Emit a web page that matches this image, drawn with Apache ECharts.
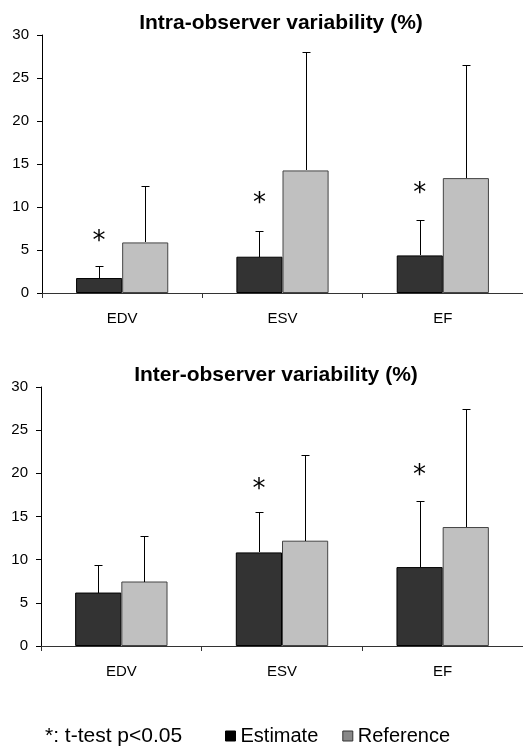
<!DOCTYPE html>
<html lang="en">
<head>
    <meta charset="UTF-8">
    <title>Observer variability</title>
    <script src="https://cdn.jsdelivr.net/npm/echarts@6/dist/echarts.min.js"></script>
    <style>
        html, body { margin: 0; padding: 0; background: #fff; }
        #chart { width: 523px; height: 747px; }
    </style>
</head>
<body>
<div id="chart"></div>
<script>
    // categories and values
    var categories = ['EDV', 'ESV', 'EF'];

    var intraEstimate = [1.74, 4.22, 4.37];
    var intraEstimateSD = [1.36, 3.02, 4.07];
    var intraReference = [5.88, 14.25, 13.36];
    var intraReferenceSD = [6.59, 13.75, 13.12];
    var intraStars = [6.6, 11.0, 12.2];

    var interEstimate = [6.19, 10.84, 9.14];
    var interEstimateSD = [3.22, 4.65, 7.62];
    var interReference = [7.47, 12.2, 13.78];
    var interReferenceSD = [5.23, 9.94, 13.62];
    var interStars = [null, 18.7, 20.3];

    var yTicks = { min: 0, max: 30, interval: 5 };

    var FONT = 'Liberation Sans, Arial, sans-serif';
    var STAR_FONT = '26px DejaVu Sans';
    var CAT_GAP = 0.425;

    // side: -1 = left bar (Estimate), 1 = right bar (Reference)
    function barOffset(api, side) {
        var band = api.size([1, 0])[0];
        var barW = band * (1 - CAT_GAP) / 2;
        return side * barW / 2;
    }

    function errorRender(side) {
        return function (params, api) {
            var i = api.value(0);
            var base = api.coord([i, api.value(1)]);
            var tip = api.coord([i, api.value(1) + api.value(2)]);
            var x = Math.round(base[0] + barOffset(api, side)) + 0.5;
            var y0 = Math.round(base[1]);
            var y1 = Math.round(tip[1]) + 0.5;
            return {
                type: 'group',
                children: [
                    { type: 'line', shape: { x1: x, y1: y0, x2: x, y2: y1 }, style: { stroke: '#000', lineWidth: 1 } },
                    { type: 'line', shape: { x1: x - 4, y1: y1, x2: x + 4, y2: y1 }, style: { stroke: '#000', lineWidth: 1 } }
                ]
            };
        };
    }

    function starRender(params, api) {
        var p = api.coord([api.value(0), api.value(1)]);
        return {
            type: 'text',
            x: p[0] + barOffset(api, -1),
            y: p[1] + 6,
            style: { text: '*', fill: '#000', font: STAR_FONT, align: 'center', verticalAlign: 'middle' }
        };
    }

    function errData(means, sds) {
        return means.map(function (v, i) { return [i, v, sds[i]]; });
    }
    function starData(stars) {
        return stars.map(function (v, i) { return [i, v]; }).filter(function (d) { return d[1] != null; });
    }

    function xAxisFor(gridIndex) {
        return {
            type: 'category',
            gridIndex: gridIndex,
            data: categories,
            axisLine: { lineStyle: { color: '#333', width: 1 } },
            axisTick: { show: true, length: 5, lineStyle: { color: '#333' } },
            axisLabel: { color: '#000', fontSize: 15, fontFamily: FONT, margin: 18 }
        };
    }
    function yAxisFor(gridIndex) {
        return {
            type: 'value',
            gridIndex: gridIndex,
            min: yTicks.min,
            max: yTicks.max,
            interval: yTicks.interval,
            splitLine: { show: false },
            axisLine: { show: true, lineStyle: { color: '#000', width: 1 } },
            axisTick: { show: true, length: 5, lineStyle: { color: '#000' } },
            axisLabel: { color: '#000', fontSize: 15, fontFamily: FONT, margin: 13 }
        };
    }

    var estStyle = { color: '#333333', borderColor: '#000', borderWidth: 1 };
    var refStyle = { color: '#c0c0c0', borderColor: '#444', borderWidth: 1 };

    function barsFor(g, est, ref) {
        return [
            { name: 'Estimate', type: 'bar', xAxisIndex: g, yAxisIndex: g, data: est, barGap: '0%', barCategoryGap: (CAT_GAP * 100) + '%', itemStyle: estStyle },
            { name: 'Reference', type: 'bar', xAxisIndex: g, yAxisIndex: g, data: ref, barGap: '0%', barCategoryGap: (CAT_GAP * 100) + '%', itemStyle: refStyle }
        ];
    }
    function extrasFor(g, est, estSD, ref, refSD, stars) {
        return [
            { type: 'custom', xAxisIndex: g, yAxisIndex: g, z: 5, renderItem: errorRender(-1), data: errData(est, estSD), silent: true },
            { type: 'custom', xAxisIndex: g, yAxisIndex: g, z: 5, renderItem: errorRender(1), data: errData(ref, refSD), silent: true },
            { type: 'custom', xAxisIndex: g, yAxisIndex: g, z: 6, renderItem: starRender, data: starData(stars), silent: true }
        ];
    }

    var chart = echarts.init(document.getElementById('chart'), null, { renderer: 'canvas' });
    chart.setOption({
        backgroundColor: '#fff',
        animation: false,
        title: [
            { text: 'Intra-observer variability (%)', left: 276, top: 8, textAlign: 'center',
              textStyle: { fontSize: 21, fontWeight: 'bold', fontFamily: FONT, color: '#000' } },
            { text: 'Inter-observer variability (%)', left: 271, top: 360, textAlign: 'center',
              textStyle: { fontSize: 21, fontWeight: 'bold', fontFamily: FONT, color: '#000' } }
        ],
        grid: [
            { left: 42, top: 35, width: 481, height: 258 },
            { left: 41, top: 387, width: 482, height: 259 }
        ],
        xAxis: [xAxisFor(0), xAxisFor(1)],
        yAxis: [yAxisFor(0), yAxisFor(1)],
        legend: {
            left: 220,
            top: 721,
            icon: 'rect',
            itemWidth: 10,
            itemHeight: 10,
            itemGap: 24,
            textStyle: { fontSize: 20, fontFamily: FONT, color: '#000' },
            data: [
                { name: 'Estimate', itemStyle: { color: '#000', borderColor: '#000', borderWidth: 1 } },
                { name: 'Reference', itemStyle: { color: '#888', borderColor: '#333', borderWidth: 1 } }
            ]
        },
        graphic: [
            { type: 'text', left: 45, top: 726, style: { text: '*: t-test p<0.05', font: '21px ' + FONT, fill: '#000' } }
        ],
        series: []
            .concat(barsFor(0, intraEstimate, intraReference))
            .concat(barsFor(1, interEstimate, interReference))
            .concat(extrasFor(0, intraEstimate, intraEstimateSD, intraReference, intraReferenceSD, intraStars))
            .concat(extrasFor(1, interEstimate, interEstimateSD, interReference, interReferenceSD, interStars))
    });
</script>
</body>
</html>
